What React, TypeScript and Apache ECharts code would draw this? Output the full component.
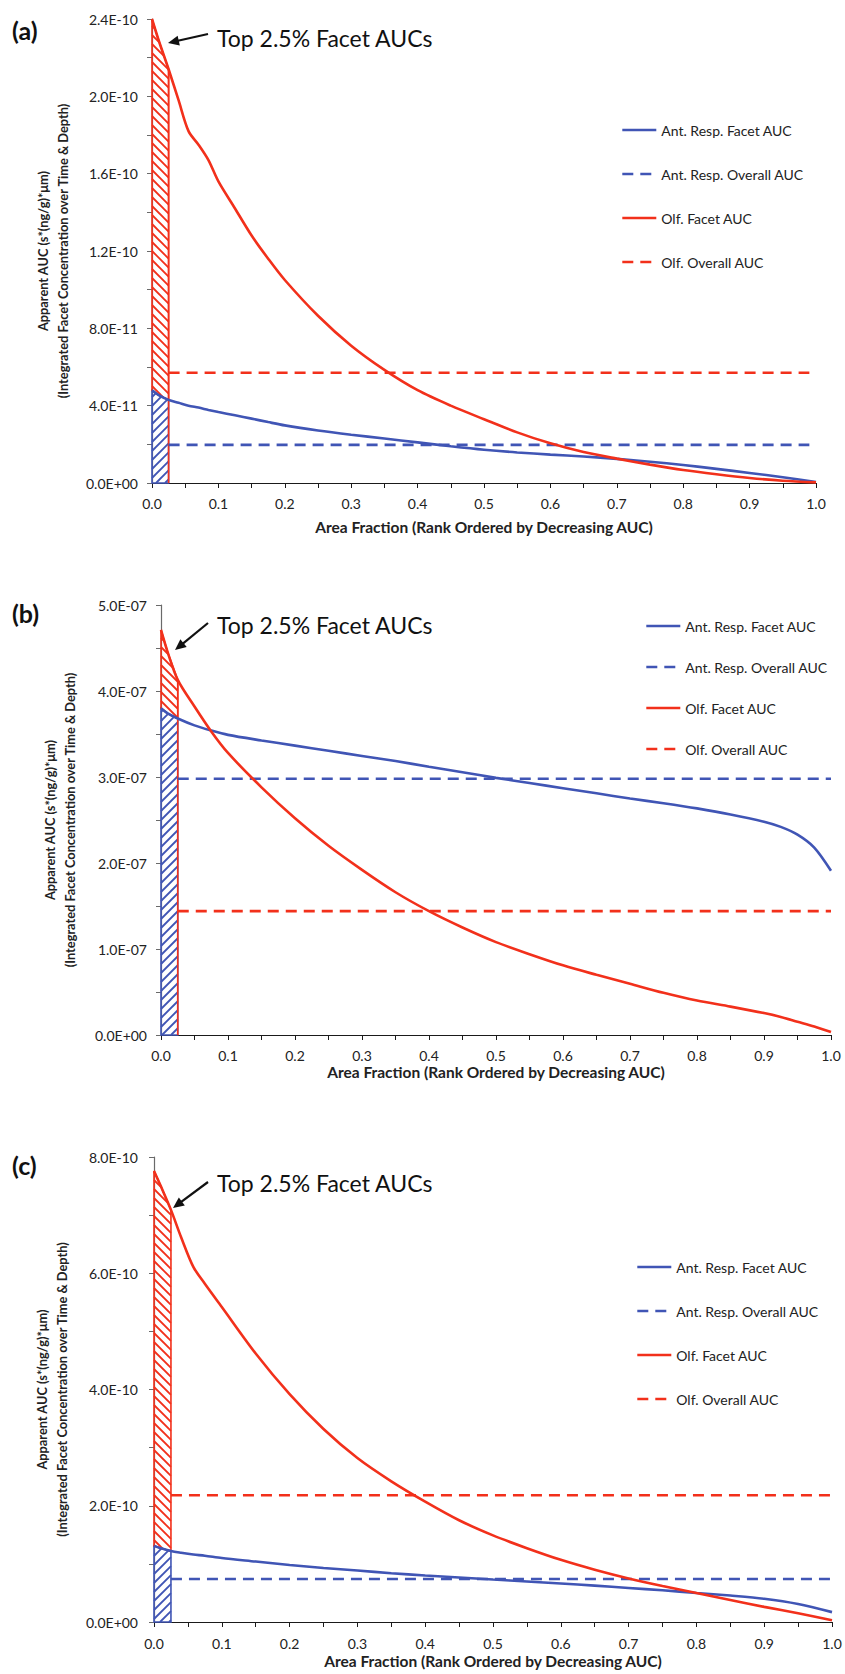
import React, { useEffect, useRef } from "react";
import * as echarts from "echarts";

// ---------------- data ----------------
const seriesNames = ["Ant. Resp. Facet AUC", "Ant. Resp. Overall AUC", "Olf. Facet AUC", "Olf. Overall AUC"];
const xTitle = "Area Fraction (Rank Ordered by Decreasing AUC)";
const yTitle = "Apparent AUC (s*(ng/g)*\u03bcm)\n(Integrated Facet Concentration over Time & Depth)";
const noteText = "Top 2.5% Facet AUCs";
const topFraction = 0.025;

// Panel (a) — values in units of 1E-10
const aUnit = 1e-10;
const aX = [0, 0.01, 0.025, 0.04, 0.055, 0.07, 0.085, 0.1, 0.125, 0.15, 0.175, 0.2, 0.25, 0.3, 0.35, 0.4, 0.45, 0.5, 0.55, 0.6, 0.65, 0.7, 0.75, 0.8, 0.85, 0.9, 0.95, 1.0];
const aAnt = [0.48, 0.455, 0.43, 0.415, 0.4, 0.39, 0.378, 0.367, 0.35, 0.333, 0.315, 0.298, 0.272, 0.25, 0.23, 0.21, 0.19, 0.172, 0.158, 0.147, 0.137, 0.125, 0.11, 0.093, 0.073, 0.052, 0.03, 0.005];
const aOlf = [2.4, 2.29, 2.14, 1.98, 1.82, 1.75, 1.67, 1.56, 1.42, 1.28, 1.16, 1.05, 0.865, 0.71, 0.585, 0.48, 0.4, 0.33, 0.262, 0.205, 0.16, 0.126, 0.095, 0.067, 0.045, 0.026, 0.012, 0.003];
const aAntOverall = 0.197;
const aOlfOverall = 0.57;
const aOverallSpan = [0.025, 0.99];
const aYMax = 2.4;
const aYStep = 0.4;

// Panel (b) — values in units of 1E-07
const bUnit = 1e-7;
const bX = [0, 0.01, 0.025, 0.05, 0.075, 0.1, 0.15, 0.2, 0.25, 0.3, 0.35, 0.4, 0.45, 0.5, 0.55, 0.6, 0.65, 0.7, 0.75, 0.8, 0.85, 0.9, 0.925, 0.95, 0.975, 1.0];
const bAnt = [3.8, 3.74, 3.68, 3.6, 3.54, 3.49, 3.425, 3.365, 3.305, 3.245, 3.185, 3.12, 3.055, 2.99, 2.93, 2.87, 2.81, 2.75, 2.695, 2.635, 2.565, 2.48, 2.42, 2.33, 2.18, 1.91];
const bOlf = [4.71, 4.45, 4.13, 3.82, 3.53, 3.28, 2.88, 2.52, 2.2, 1.92, 1.66, 1.44, 1.25, 1.08, 0.94, 0.81, 0.7, 0.595, 0.49, 0.4, 0.33, 0.255, 0.21, 0.155, 0.1, 0.035];
const bAntOverall = 2.98;
const bOlfOverall = 1.44;
const bOverallSpan = [0.025, 1.0];
const bYMax = 5;
const bYStep = 1;

// Panel (c) — values in units of 1E-10
const cUnit = 1e-10;
const cX = [0, 0.01, 0.025, 0.04, 0.058, 0.075, 0.1, 0.15, 0.2, 0.25, 0.3, 0.35, 0.4, 0.45, 0.5, 0.55, 0.6, 0.65, 0.7, 0.75, 0.8, 0.85, 0.9, 0.95, 1.0];
const cAnt = [1.31, 1.27, 1.22, 1.19, 1.16, 1.14, 1.1, 1.04, 0.98, 0.93, 0.885, 0.84, 0.8, 0.765, 0.73, 0.697, 0.663, 0.625, 0.585, 0.545, 0.5, 0.455, 0.4, 0.31, 0.17];
const cOlf = [7.76, 7.5, 7.09, 6.62, 6.11, 5.82, 5.42, 4.62, 3.92, 3.32, 2.82, 2.42, 2.07, 1.75, 1.49, 1.27, 1.07, 0.9, 0.75, 0.62, 0.5, 0.38, 0.26, 0.15, 0.03];
const cAntOverall = 0.74;
const cOlfOverall = 2.18;
const cOverallSpan = [0.025, 1.0];
const cYMax = 8;
const cYStep = 2;

// ---------------- styles / layout ----------------
const RED = "#F2301B";
const BLUE = "#4055B5";
const FONT = "Lato";
const TEXT = "#222222";

type Panel = {
  tag: string;
  unit: number;
  x: number[];
  ant: number[];
  olf: number[];
  antOverall: number;
  olfOverall: number;
  span: number[];
  yMax: number;
  yStep: number;
  grid: { left: number; top: number; width: number; height: number };
  xLabelMargin: number;
  yLabelMargin: number;
  xNameGap: number;
  yNameGap: number;
  legendLeft: number;
  legendTop: number;
  legendGap: number;
  tagPos: [number, number];
  notePos: [number, number];
  arrowFrom: [number, number];
  arrowTo: [number, number];
  redBorderToZero: boolean;
};

const panels: Panel[] = [
  {
    tag: "(a)", unit: aUnit, x: aX, ant: aAnt, olf: aOlf, antOverall: aAntOverall, olfOverall: aOlfOverall,
    span: aOverallSpan, yMax: aYMax, yStep: aYStep,
    grid: { left: 152, top: 19, width: 664, height: 464 },
    xLabelMargin: 13, yLabelMargin: 14, xNameGap: 36, yNameGap: 79,
    legendLeft: 621, legendTop: 123, legendGap: 30,
    tagPos: [12, 30], notePos: [217, 38], arrowFrom: [208, 34], arrowTo: [168, 43], redBorderToZero: true,
  },
  {
    tag: "(b)", unit: bUnit, x: bX, ant: bAnt, olf: bOlf, antOverall: bAntOverall, olfOverall: bOlfOverall,
    span: bOverallSpan, yMax: bYMax, yStep: bYStep,
    grid: { left: 161, top: 605, width: 670, height: 430 },
    xLabelMargin: 13, yLabelMargin: 14, xNameGap: 29, yNameGap: 81,
    legendLeft: 645, legendTop: 619, legendGap: 27,
    tagPos: [12, 613], notePos: [217, 625], arrowFrom: [208, 623], arrowTo: [175, 650], redBorderToZero: true,
  },
  {
    tag: "(c)", unit: cUnit, x: cX, ant: cAnt, olf: cOlf, antOverall: cAntOverall, olfOverall: cOlfOverall,
    span: cOverallSpan, yMax: cYMax, yStep: cYStep,
    grid: { left: 154, top: 1157, width: 678, height: 465 },
    xLabelMargin: 14, yLabelMargin: 16, xNameGap: 31, yNameGap: 82,
    legendLeft: 636, legendTop: 1260, legendGap: 30,
    tagPos: [12, 1165], notePos: [217, 1183], arrowFrom: [208, 1182], arrowTo: [173, 1208], redBorderToZero: false,
  },
];

function sci(v: number): string {
  if (Math.abs(v) < 1e-30) return "0.0E+00";
  const [m, e] = v.toExponential(1).split("e");
  const ei = parseInt(e, 10);
  const sign = ei < 0 ? "-" : "+";
  const a = Math.abs(ei);
  return `${m}E${sign}${a < 10 ? "0" + a : a}`;
}

type Pt = number[];

function clipLine(poly: Pt[], P0: Pt, D: Pt): number[][] {
  const ts: number[] = [];
  for (let i = 0; i < poly.length; i++) {
    const A = poly[i];
    const B = poly[(i + 1) % poly.length];
    const E = [B[0] - A[0], B[1] - A[1]];
    const den = D[0] * E[1] - D[1] * E[0];
    if (Math.abs(den) < 1e-9) continue;
    const W = [A[0] - P0[0], A[1] - P0[1]];
    const t = (W[0] * E[1] - W[1] * E[0]) / den;
    const u = (W[0] * D[1] - W[1] * D[0]) / den;
    if (u >= 0 && u < 1) ts.push(t);
  }
  ts.sort((p, q) => p - q);
  const segs: number[][] = [];
  for (let k = 0; k + 1 < ts.length; k += 2) {
    const t1 = ts[k];
    const t2 = ts[k + 1];
    segs.push([P0[0] + D[0] * t1, P0[1] + D[1] * t1, P0[0] + D[0] * t2, P0[1] + D[1] * t2]);
  }
  return segs;
}

function hatch(poly: Pt[], dirSign: number, step: number, color: string) {
  // dirSign = 1 : "\" lines (y - x = c); dirSign = -1 : "/" lines (y + x = c)
  const D = [1, dirSign];
  const vals = poly.map((p) => p[1] - dirSign * p[0]);
  const lo = Math.floor(Math.min(...vals) / step) * step;
  const hi = Math.max(...vals);
  const out: any[] = [];
  for (let c = lo; c <= hi + step; c += step) {
    const segs = clipLine(poly, [0, c], D);
    segs.forEach((s) => {
      out.push({
        type: "line",
        shape: { x1: s[0], y1: s[1], x2: s[2], y2: s[3] },
        style: { stroke: color, lineWidth: 1.8 },
      });
    });
  }
  return out;
}

function arrow(from: [number, number], to: [number, number]) {
  const [sx, sy] = from;
  const [tx, ty] = to;
  const dx = tx - sx;
  const dy = ty - sy;
  const len = Math.hypot(dx, dy);
  const ux = dx / len;
  const uy = dy / len;
  const L = 11;
  const W = 5;
  const bx = tx - ux * L;
  const by = ty - uy * L;
  const nx = -uy;
  const ny = ux;
  return [
    { type: "line", shape: { x1: sx, y1: sy, x2: bx + ux * 2, y2: by + uy * 2 }, style: { stroke: "#111", lineWidth: 2.2 } },
    {
      type: "polygon",
      shape: { points: [[tx, ty], [bx + nx * W, by + ny * W], [bx - nx * W, by - ny * W]] },
      style: { fill: "#111" },
    },
  ];
}

function buildOption() {
  const grid = panels.map((p) => ({ ...p.grid, containLabel: false }));
  const xAxis = panels.map((p, i) => ({
    type: "value",
    gridIndex: i,
    min: 0,
    max: 1,
    interval: 0.1,
    axisLine: { lineStyle: { color: "#1a1a1a", width: 1.2 } },
    axisTick: { show: true, inside: false, length: 5, lineStyle: { color: "#1a1a1a" } },
    minorTick: { show: true, splitNumber: 2, length: 5, lineStyle: { color: "#1a1a1a" } },
    splitLine: { show: false },
    axisLabel: {
      formatter: (v: number) => v.toFixed(1),
      fontSize: 14,
      color: TEXT,
      fontFamily: FONT,
      margin: p.xLabelMargin,
    },
    name: xTitle,
    nameLocation: "middle",
    nameGap: p.xNameGap,
    nameTextStyle: { fontSize: 15.5, fontWeight: "bold", color: TEXT, fontFamily: FONT },
  }));
  const yAxis = panels.map((p, i) => ({
    type: "value",
    gridIndex: i,
    min: 0,
    max: p.yMax * p.unit,
    interval: p.yStep * p.unit,
    axisLine: { show: true, lineStyle: { color: "#6a6a6a", width: 1.2 } },
    axisTick: { show: true, inside: false, length: 5, lineStyle: { color: "#6a6a6a" } },
    minorTick: { show: true, splitNumber: 2, length: 5, lineStyle: { color: "#6a6a6a" } },
    splitLine: { show: false },
    axisLabel: {
      formatter: (v: number) => sci(v),
      fontSize: 14,
      color: TEXT,
      fontFamily: FONT,
      margin: p.yLabelMargin,
    },
    name: yTitle,
    nameLocation: "middle",
    nameRotate: 90,
    nameGap: p.yNameGap,
    nameTextStyle: { fontSize: 12.8, fontWeight: "bold", color: TEXT, fontFamily: FONT, lineHeight: 20, align: "center" },
  }));

  const series: any[] = [];
  panels.forEach((p, i) => {
    const topIdx = p.x.map((x, j) => j).filter((j) => p.x[j] <= topFraction + 1e-9);
    const topX = topIdx.map((j) => p.x[j]);
    const topAnt = topIdx.map((j) => p.ant[j]);
    const topOlf = topIdx.map((j) => p.olf[j]);
    series.push({
      type: "custom",
      name: "hatch" + i,
      xAxisIndex: i,
      yAxisIndex: i,
      silent: true,
      clip: false,
      z: 1,
      encode: { x: 0, y: [1, 2] },
      data: topX.map((x, j) => [x, topAnt[j] * p.unit, topOlf[j] * p.unit]),
      renderItem: (params: any, api: any) => {
        if (params.dataIndex !== 0) return null;
        const red = topX.map((x, j) => api.coord([x, topOlf[j] * p.unit]));
        const blue = topX.map((x, j) => api.coord([x, topAnt[j] * p.unit]));
        const base = topX.map((x) => api.coord([x, 0]));
        const redPoly = [...red, ...blue.slice().reverse()];
        const bluePoly = [...blue, ...base.slice().reverse()];
        const children: any[] = [];
        children.push(...hatch(redPoly, 1, 9, RED));
        children.push(...hatch(bluePoly, -1, 9, BLUE));
        children.push({ type: "polygon", shape: { points: bluePoly }, style: { fill: "none", stroke: BLUE, lineWidth: 1.6 } });
        children.push({ type: "polygon", shape: { points: redPoly }, style: { fill: "none", stroke: RED, lineWidth: 1.6 } });
        if (p.redBorderToZero) {
          const last = red.length - 1;
          children.push({
            type: "line",
            shape: { x1: red[last][0], y1: red[last][1], x2: base[last][0], y2: base[last][1] },
            style: { stroke: RED, lineWidth: 1.6 },
          });
        }
        return { type: "group", children };
      },
    });
    const common = { type: "line", xAxisIndex: i, yAxisIndex: i, symbol: "none", silent: true, z: 3 };
    series.push({
      ...common,
      name: seriesNames[0],
      color: BLUE,
      smooth: 0.3,
      lineStyle: { color: BLUE, width: 2.6 },
      data: p.x.map((x, j) => [x, p.ant[j] * p.unit]),
    });
    series.push({
      ...common,
      name: seriesNames[1],
      color: BLUE,
      lineStyle: { color: BLUE, width: 2.6, type: [11, 7] },
      data: p.span.map((x) => [x, p.antOverall * p.unit]),
    });
    series.push({
      ...common,
      name: seriesNames[2],
      color: RED,
      smooth: 0.3,
      z: 4,
      lineStyle: { color: RED, width: 2.6 },
      data: p.x.map((x, j) => [x, p.olf[j] * p.unit]),
    });
    series.push({
      ...common,
      name: seriesNames[3],
      color: RED,
      lineStyle: { color: RED, width: 2.6, type: [11, 7] },
      data: p.span.map((x) => [x, p.olfOverall * p.unit]),
    });
  });

  const legend = panels.map((p) => ({
    orient: "vertical",
    left: p.legendLeft,
    top: p.legendTop,
    padding: 0,
    itemGap: p.legendGap,
    itemWidth: 34,
    itemHeight: 14,
    selectedMode: false,
    data: seriesNames,
    lineStyle: { width: 2.6 },
    itemStyle: { opacity: 0, borderWidth: 0 },
    textStyle: { fontSize: 14, color: TEXT, fontFamily: FONT },
  }));

  const graphic: any[] = [];
  panels.forEach((p) => {
    graphic.push({
      type: "text",
      x: p.tagPos[0],
      y: p.tagPos[1],
      style: { text: p.tag, fontSize: 25, fontWeight: "bold", fontFamily: FONT, fill: "#111", verticalAlign: "middle" },
    });
    graphic.push({
      type: "text",
      x: p.notePos[0],
      y: p.notePos[1],
      style: { text: noteText, fontSize: 23, fontFamily: FONT, fill: "#111", verticalAlign: "middle" },
    });
    graphic.push(...arrow(p.arrowFrom, p.arrowTo));
  });

  return {
    animation: false,
    backgroundColor: "#ffffff",
    textStyle: { fontFamily: FONT },
    grid,
    xAxis,
    yAxis,
    legend,
    series,
    graphic,
  };
}

export default function App() {
  const ref = useRef<HTMLDivElement | null>(null);
  useEffect(() => {
    document.body.style.margin = "0";
    if (!ref.current) return;
    const chart = echarts.init(ref.current, null, { renderer: "svg" });
    chart.setOption(buildOption() as any);
    return () => chart.dispose();
  }, []);
  return <div ref={ref} style={{ width: 845, height: 1674, background: "#fff" }} />;
}
